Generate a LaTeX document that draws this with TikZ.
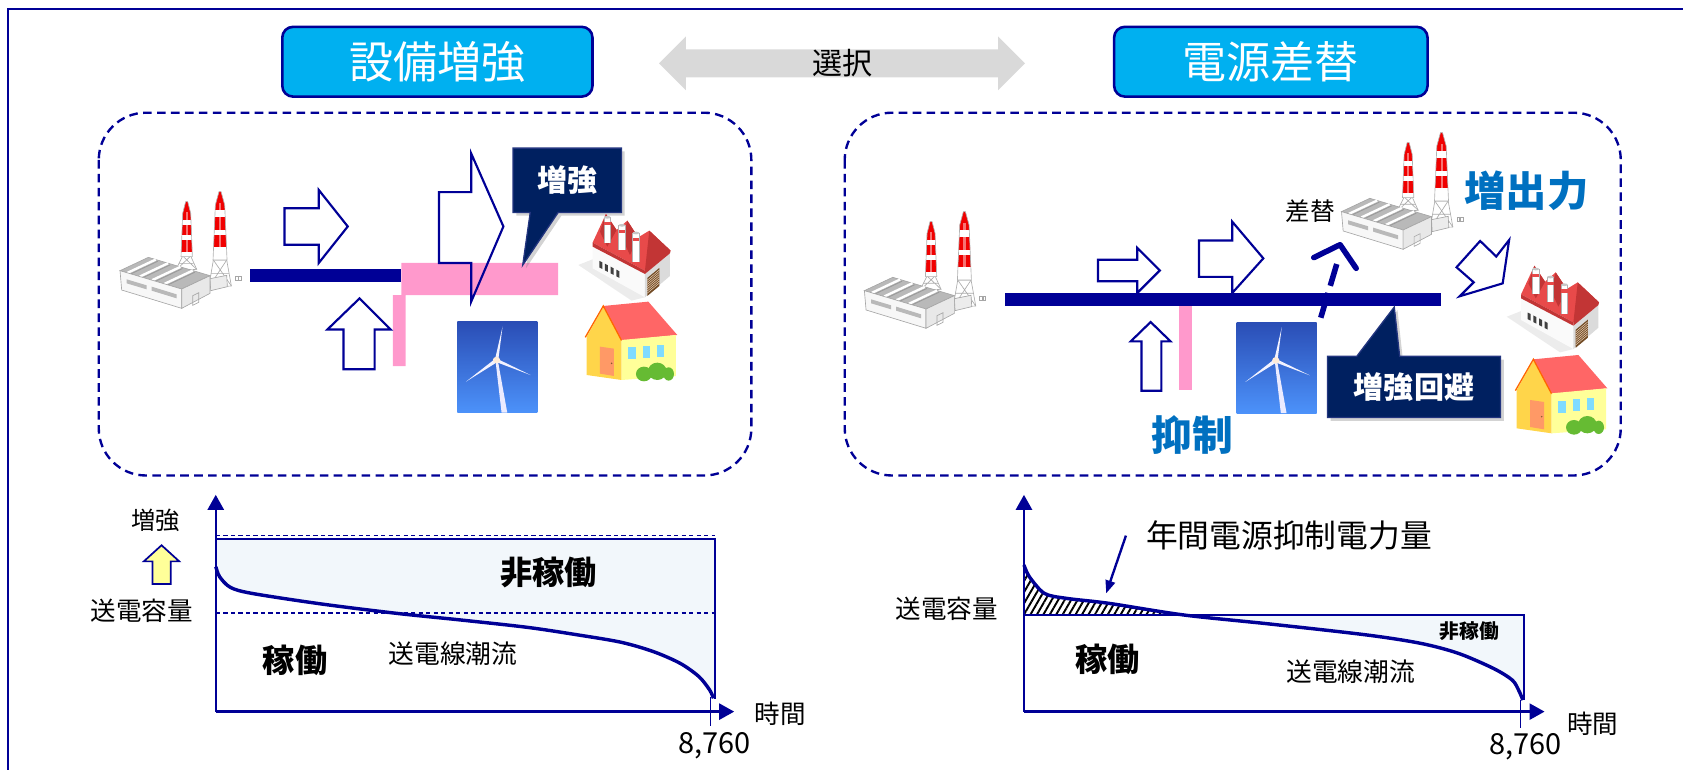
\documentclass[tikz,border=0pt]{standalone}
\usepackage{fontspec}
\setmainfont{Noto Sans CJK JP}
\usetikzlibrary{arrows.meta,patterns,patterns.meta,shadows}

\definecolor{lineblue}{HTML}{000096}
\definecolor{titlecyan}{HTML}{00B0F0}
\definecolor{calloutbg}{HTML}{002060}
\definecolor{calloutedge}{HTML}{23357F}
\definecolor{pinkbar}{HTML}{FF99CC}
\definecolor{paleblue}{HTML}{F2F7FB}
\definecolor{arrowgray}{HTML}{D9D9D9}
\definecolor{textblue}{HTML}{0070C0}
\definecolor{paleyellow}{HTML}{FFFF99}
\definecolor{stackred}{HTML}{F00000}
\definecolor{roofred}{HTML}{E84A4A}
\definecolor{roofdark}{HTML}{C23535}
\definecolor{houseroof}{HTML}{FF6666}
\definecolor{wallyellow}{HTML}{FFD54A}
\definecolor{wallpale}{HTML}{FFFF99}
\definecolor{winblue}{HTML}{7FDBFF}
\definecolor{doororange}{HTML}{FF9966}
\definecolor{bushgreen}{HTML}{66BB33}
\definecolor{skytop}{HTML}{2A4DB5}
\definecolor{skybottom}{HTML}{4C92FA}

\newcommand\fsz[1]{\fontsize{#1}{#1}\selectfont}

\tikzset{
  % thermal power plant: building with two striped stacks
  plant/.pic={
    \draw[gray!65,line width=0.3pt,fill=white] (218,228)--(242,228)--(260,268)--(196,272)--cycle;
    \draw[gray!65,line width=0.3pt] (218,228)--(260,268) (242,228)--(196,272) (207,250)--(251,250);
    \draw[gray!65,line width=0.3pt,fill=white] (310,240)--(350,240)--(364,318)--(296,322)--cycle;
    \draw[gray!65,line width=0.3pt] (310,240)--(364,318) (350,240)--(296,322) (303,280)--(357,280);
    \begin{scope}
      \clip (227,65)--(233,65)--(242,100)--(247,230)--(213,230)--(218,100)--cycle;
      \fill[white] (200,60) rectangle (260,235);
      \fill[stackred] (200,60) rectangle (260,120);
      \fill[stackred] (200,135) rectangle (260,165);
      \fill[stackred] (200,180) rectangle (260,215);
      \fill[white,opacity=0.45] (227,95) rectangle (233,235);
    \end{scope}
    \draw[gray!60,line width=0.3pt] (227,65)--(233,65)--(242,100)--(247,230)--(213,230)--(218,100)--cycle;
    \begin{scope}
      \clip (327,35)--(333,35)--(344,75)--(351,240)--(309,240)--(316,75)--cycle;
      \fill[white] (300,30) rectangle (360,245);
      \fill[stackred] (300,30) rectangle (360,90);
      \fill[stackred] (300,110) rectangle (360,150);
      \fill[stackred] (300,165) rectangle (360,200);
      \fill[white,opacity=0.45] (327,70) rectangle (334,245);
    \end{scope}
    \draw[gray!60,line width=0.3pt] (327,35)--(333,35)--(344,75)--(351,240)--(309,240)--(316,75)--cycle;
    \draw[gray!70,line width=0.3pt,fill=gray!15] (300,296)--(350,286)--(352,320)--(302,332)--cycle;
    \draw[gray!70,line width=0.3pt] (376,290) rectangle (384,300) (386,290) rectangle (394,300);
    \draw[gray!70,line width=0.3pt,fill=gray!55] (30,272)--(115,232)--(300,287)--(215,327)--cycle;
    \foreach \t in {0.12,0.32,0.52,0.72}{
      \draw[white,line width=1.1pt] ({30+185*\t},{272+55*\t}) -- ++(85,-40);
      \draw[gray!80,line width=0.4pt] ({36+185*\t},{277+55*\t}) -- ++(85,-40);
    }
    \draw[gray!70,line width=0.3pt,fill=gray!6] (30,272)--(215,327)--(215,385)--(35,330)--cycle;
    \fill[gray!55] (50,298)--(110,316)--(110,328)--(50,310)--cycle;
    \fill[gray!55] (125,320)--(200,343)--(200,355)--(125,332)--cycle;
    \draw[gray!70,line width=0.3pt,fill=gray!18] (215,327)--(300,287)--(300,340)--(215,385)--cycle;
    \draw[gray!70,line width=0.3pt] (248,347)--(266,338)--(266,367)--(248,376)--cycle;
  },
  % factory with saw-tooth roof
  factory/.pic={
    \fill[gray!15] (25,195)--(68,178)--(225,292)--(185,302)--cycle;
    \fill[gray!4] (68,140)--(225,222)--(225,292)--(68,205)--cycle;
    \fill[gray!28] (225,222)--(300,160)--(300,228)--(225,292)--cycle;
    \fill[roofred] (68,128)--(108,42)--(140,90)--(172,62)--(205,112)--(238,92)--(302,152)--(225,212)--cycle;
    \fill[roofdark] (108,42)--(140,90)--(112,140)--(90,95)--cycle;
    \fill[roofdark] (172,62)--(205,112)--(180,165)--(158,118)--cycle;
    \fill[roofdark] (238,92)--(302,152)--(300,160)--(225,222)--(225,212)--cycle;
    \fill[roofdark] (68,128)--(225,212)--(225,222)--(68,140)--cycle;
    \foreach \cx/\ct/\cb in {112/52/128,156/76/150,198/99/186}{
      \fill[white] (\cx-10,\ct) rectangle (\cx+10,\cb);
      \draw[gray!60,line width=0.3pt] (\cx-10,\ct) -- (\cx-10,\cb) (\cx+10,\ct) -- (\cx+10,\cb);
      \fill[roofred] (\cx-10,\ct+14) rectangle (\cx+10,\ct+24);
      \fill[gray!45] (\cx,\ct) ellipse [x radius=10,y radius=4];
    }
    \foreach \wx in {88,105,122,139}{
      \fill[black!75] (\wx,{172+(\wx-68)*0.52}) -- ++(9,4.7) -- ++(0,20) -- ++(-9,-4.7) -- cycle;
    }
    \fill[brown!60!black] (232,234)--(268,204)--(268,258)--(232,288)--cycle;
    \foreach \k in {1,...,7}{
      \draw[brown!40,line width=0.25pt] (232,{234+6.5*\k}) -- (268,{204+6.5*\k});
    }
  },
  % small house
  house/.pic={
    \fill[wallyellow] (50,410)--(100,322)--(155,420)--(155,540)--(50,525)--cycle;
    \fill[houseroof] (100,318)--(235,305)--(322,405)--(155,422)--cycle;
    \draw[orange!80!red,line width=0.6pt] (46,412)--(100,318)--(155,422);
    \fill[wallpale] (155,420)--(318,405)--(318,528)--(155,540)--cycle;
    \fill[winblue] (175,442) rectangle (197,478);
    \fill[winblue] (218,438) rectangle (240,474);
    \fill[winblue] (260,434) rectangle (282,470);
    \fill[doororange] (90,440)--(132,446)--(132,528)--(90,521)--cycle;
    \fill[brown!70!black] (125,490) circle [radius=2.5];
    \fill[bushgreen] (222,522) ellipse [x radius=24,y radius=22];
    \fill[bushgreen] (262,514) ellipse [x radius=28,y radius=26];
    \fill[bushgreen] (296,522) ellipse [x radius=16,y radius=20];
  },
  % wind turbine photo tile
  turbine/.pic={
    \shade[top color=skytop,bottom color=skybottom] (0,0) rectangle (74.6,84.8);
    \fill[white!92!blue] (35.6,36)--(37.8,36)--(46.6,84.8)--(41.3,84.8)--cycle;
    \fill[white!95!blue] (35.2,35)--(42.2,4.7)--(38.2,36)--cycle;
    \fill[white!95!blue] (35.5,34.5)--(8.1,55.9)--(37.5,37.5)--cycle;
    \fill[white!95!blue] (37,34.5)--(68.3,49.7)--(36,37.5)--cycle;
    \fill[orange!15] (36.6,35.7) ellipse [x radius=3.4,y radius=3];
  }
}

\begin{document}
\begin{tikzpicture}[x=0.5pt,y=-0.5pt,
  frameline/.style={draw=lineblue,line width=1pt},
  panelbox/.style={draw=lineblue,line width=1.1pt,dash pattern=on 4pt off 2.5pt,rounded corners=22pt},
  titlebox/.style={draw=lineblue,line width=1.2pt,fill=titlecyan,rounded corners=5pt,
    text=white,inner sep=0,font=\fsz{20.5}},
  blockarrow/.style={draw=lineblue,line width=1pt,line join=miter},
  calloutshape/.style={fill=calloutbg,draw=calloutedge,line width=0.6pt,
    drop shadow={opacity=0.35,shadow xshift=1.5pt,shadow yshift=-1.5pt}},
  callouttext/.style={text=white,font=\fsz{14}\bfseries,inner sep=0},
  busbar/.style={fill=lineblue},
  axisline/.style={draw=lineblue,line width=1.1pt,-{Triangle[length=7pt,width=7.5pt]}},
  capline/.style={draw=lineblue,line width=1.1pt},
  capdash/.style={draw=lineblue,line width=0.6pt,dash pattern=on 2pt off 1.5pt},
  flowcurve/.style={draw=lineblue,line width=1.6pt,line join=round},
  tickline/.style={draw=lineblue,line width=0.4pt},
  lbl/.style={inner sep=0,text=black},
]
\useasboundingbox (0,0) rectangle (1568,717);

% outer frame (top and left edges)
\draw[frameline] (1568,8.5) -- (7.5,8.5) -- (7.5,717);

% headings and the choice arrow
\node[titlebox,minimum width=144.5pt,minimum height=32.5pt] (titleL) at (407.5,57.5) {設備増強};
\node[titlebox,minimum width=146pt,minimum height=32.5pt] (titleR) at (1184,57.5) {電源差替};
\fill[arrowgray] (614,59)--(639,34)--(639,46)--(930,46)--(930,34)--(955,59)--(930,84)--(930,72)--(639,72)--(639,84)--cycle;
\node[lbl,font=\fsz{14}] (choice) at (785,59) {選択};

% dashed panels
\draw[panelbox] (92,105) rectangle (700,443);
\draw[panelbox] (787,105) rectangle (1510,443);

% ---------- left panel: reinforcement ----------
\pic[scale=0.3106] at (102.5,167.7) {plant};
\fill[busbar] (233,251) rectangle (374,263);
\fill[pinkbar] (374,245)--(520,245)--(520,275)--(378,275)--(378,341)--(366,341)--(366,275)--(374,275)--cycle;
\draw[blockarrow,fill=white] (265,194)--(297,194)--(297,177)--(324,211)--(297,245)--(297,228)--(265,228)--cycle;
\draw[blockarrow] (409,179)--(439,179)--(439,143)--(469,211)--(439,281)--(439,245)--(409,245)--cycle;
\draw[blockarrow,fill=white] (320,344)--(320,307)--(305,307)--(335,278)--(364,307)--(349,307)--(349,344)--cycle;
\draw[calloutshape] (478,138)--(579,138)--(579,198)--(520,198)--(487,247)--(494,198)--(478,198)--cycle;
\node[callouttext] (reinforce) at (528.5,168) {増強};
\pic at (426,299.7) {turbine};
\pic[scale=0.3106] at (531,186.3) {factory};
\pic[scale=0.3106] at (531,186.3) {house};

% ---------- right panel: source replacement ----------
\pic[scale=0.3106] at (796,186.3) {plant};
\pic[scale=0.3106] at (1240.5,112.7) {plant};
\draw[lineblue,line width=2.6pt,dash pattern=on 12pt off 3.5pt] (1230.5,296) -- (1245.4,246);
\draw[lineblue,line width=2.6pt,line cap=round,line join=round] (1224,240) -- (1248.5,228) -- (1263.5,250);
\fill[busbar] (936,273) rectangle (1342.5,285);
\fill[pinkbar] (1098,285) rectangle (1111,363);
\draw[blockarrow,fill=white] (1023,242)--(1059.5,242)--(1059.5,231)--(1080.5,252)--(1059.5,273)--(1059.5,262)--(1023,262)--cycle;
\draw[blockarrow,fill=white] (1117,224)--(1148,224)--(1148,206.5)--(1177,240.7)--(1148,273)--(1148,258)--(1117,258)--cycle;
\draw[blockarrow,fill=white] (1063.5,364)--(1063.5,318)--(1053.5,318)--(1072,300)--(1090.5,318)--(1082,318)--(1082,364)--cycle;
\draw[blockarrow,fill=white] (1379,224.5)--(1394,239)--(1406,223.6)--(1400,264)--(1360,276)--(1373,263)--(1357,249)--cycle;
\node[lbl,font=\fsz{11.5}] (swap) at (1221,197) {差替};
\node[lbl,text=textblue,font=\fsz{19.3}\bfseries] (boost) at (1422,178) {増出力};
\node[lbl,text=textblue,font=\fsz{19}\bfseries] (curtail) at (1111,405) {抑制};
\draw[calloutshape] (1236.7,332)--(1264,332)--(1299,286)--(1304,332)--(1398,332)--(1398,389)--(1236.7,389)--cycle;
\node[callouttext] (avoid) at (1317.4,360.5) {増強回避};
\pic at (1152,300) {turbine};
\pic[scale=0.3106] at (1396,234.5) {factory};
\pic[scale=0.3106] at (1397.5,236) {house};

% ---------- left chart ----------
\coordinate (LO) at (201,663);
\coordinate (LY) at (201,461);
\coordinate (LX) at (684,663);
\fill[paleblue] (201,502) -- (666,502) -- (666,650.6) -- plot[smooth,tension=0.5] coordinates {(664.7,650.6) (661.2,642.9) (651.2,630.4) (633.7,618) (608.8,607.1) (578.8,598.4) (538.9,591.6) (491.5,584.5) (429.1,577.6) (369.3,571.4) (299.4,562.7) (234.5,552.8) (214.6,547.2) (204.6,537.3) (201.1,528)} -- cycle;
\draw[capdash] (201,499) -- (666,499);
\draw[capline] (201,502) -- (666,502) -- (666,651);
\draw[capdash] (201,571) -- (666,571);
\draw[flowcurve] plot[smooth,tension=0.5] coordinates {(201.1,528) (204.6,537.3) (214.6,547.2) (234.5,552.8) (299.4,562.7) (369.3,571.4) (429.1,577.6) (491.5,584.5) (538.9,591.6) (578.8,598.4) (608.8,607.1) (633.7,618) (651.2,630.4) (661.2,642.9) (664.7,650.6)};
\draw[tickline] (662,649) -- (662,676);
\draw[axisline] (LO) -- (LY);
\draw[axisline] (LO) -- (LX);
\draw[draw=lineblue,line width=0.8pt,fill=paleyellow,line join=miter] (142,544)--(142,523)--(134,523)--(150.5,508)--(167,523)--(159,523)--(159,544)--cycle;
\node[lbl,font=\fsz{11.3}] (upL) at (145,485) {増強};
\node[lbl,font=\fsz{11.9}] (capL) at (132,569) {送電容量};
\node[lbl,font=\fsz{15}\bfseries] (idleL) at (511,533) {非稼働};
\node[lbl,font=\fsz{15}\bfseries] (busyL) at (275,615) {稼働};
\node[lbl,font=\fsz{12}] (flowL) at (422,609) {送電線潮流};
\node[lbl,font=\fsz{11.9}] (timeL) at (727,665) {時間};
\node[lbl,font=\fsz{13.5}] (hoursL) at (666,695) {8,760};

% ---------- right chart ----------
\coordinate (RO) at (954,663);
\coordinate (RY) at (954,461);
\coordinate (RX) at (1439,663);
\fill[paleblue] (1103.2,573) -- (1420,573) -- (1420,652.2) -- plot[smooth,tension=0.5] coordinates {(1418.8,652.2) (1414.8,642.9) (1408.8,633.5) (1391.3,622.7) (1358.7,608.7) (1323.7,599.4) (1273.6,591.6) (1183.4,581.4) (1103.2,573)} -- cycle;
\fill[pattern={Lines[angle=60,distance=2.6pt,line width=0.9pt]},pattern color=black] (954,573) -- plot[smooth,tension=0.5] coordinates {(954,526.4) (959,537.3) (973,552.8) (993,557.4) (1033.1,562.1) (1103.2,573)} -- cycle;
\draw[capline] (954,573) -- (1420,573) -- (1420,652);
\draw[flowcurve] plot[smooth,tension=0.5] coordinates {(954,526.4) (959,537.3) (973,552.8) (993,557.4) (1033.1,562.1) (1103.2,573) (1183.4,581.4) (1273.6,591.6) (1323.7,599.4) (1358.7,608.7) (1391.3,622.7) (1408.8,633.5) (1414.8,642.9) (1418.8,652.2)};
\draw[tickline] (1416.4,652) -- (1416.4,678);
\draw[axisline] (RO) -- (RY);
\draw[axisline] (RO) -- (RX);
\node[lbl,font=\fsz{14.8}] (annual) at (1201,499) {年間電源抑制電力量};
\coordinate (ptrS) at (1049,499);
\coordinate (ptrE) at (1030.6,552.8);
\draw[lineblue,line width=1.1pt,-{Triangle[length=6pt,width=4.5pt]}] (ptrS) -- (ptrE);
\node[lbl,font=\fsz{11.9}] (capR) at (882,567) {送電容量};
\node[lbl,font=\fsz{9.2}\bfseries] (idleR) at (1369,588) {非稼働};
\node[lbl,font=\fsz{15}\bfseries] (busyR) at (1032,614.6) {稼働};
\node[lbl,font=\fsz{12}] (flowR) at (1258.5,626) {送電線潮流};
\node[lbl,font=\fsz{11.9}] (timeR) at (1484,674) {時間};
\node[lbl,font=\fsz{13.5}] (hoursR) at (1421,695.5) {8,760};
\end{tikzpicture}
\end{document}
